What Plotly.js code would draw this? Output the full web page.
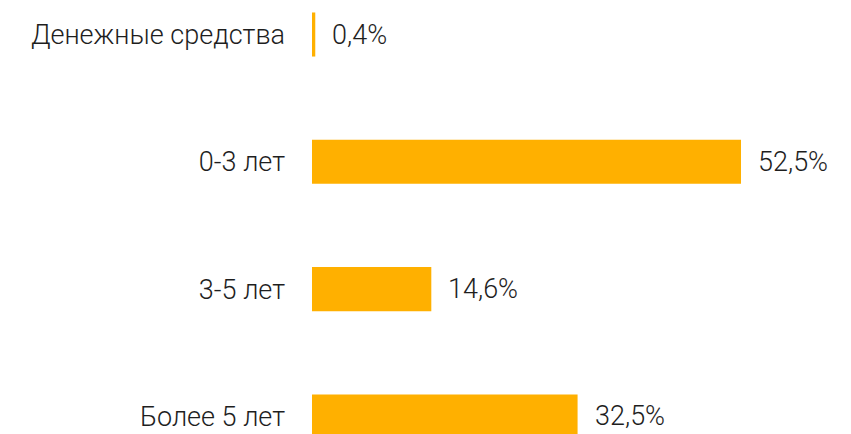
<!DOCTYPE html>
<html>
<head>
<meta charset="utf-8">
<script src="https://cdn.plot.ly/plotly-3.0.1.min.js"></script>
<style>html,body{margin:0;padding:0;background:#fff;}#chart{width:851px;height:434px;}</style>
</head>
<body>
<div id="chart"></div>
<script>
var categories = ["Денежные средства", "0-3 лет", "3-5 лет", "Более 5 лет"];
var values = [0.4, 52.5, 14.6, 32.5];
var valueLabels = ["0,4%", "52,5%", "14,6%", "32,5%"];

var barColor = "#FFB000";
var textColor = "#1e1e1e";
var fontFamily = "Roboto, 'Noto Sans', sans-serif";

var trace = {
  type: "bar",
  orientation: "h",
  x: values,
  y: categories,
  width: 0.346,
  marker: {color: barColor},
  hoverinfo: "none"
};

var annotations = values.map(function (v, i) {
  return {
    x: v, y: categories[i], xref: "x", yref: "y",
    text: valueLabels[i], showarrow: false,
    xanchor: "left", yanchor: "middle", xshift: 15,
    font: {family: fontFamily, size: 27, weight: 300, color: textColor}
  };
});

var layout = {
  width: 851, height: 434,
  margin: {l: 312, r: 0, t: 0, b: 0, pad: 0},
  paper_bgcolor: "#ffffff", plot_bgcolor: "#ffffff",
  showlegend: false,
  xaxis: {range: [0, 65.96], visible: false, fixedrange: true},
  yaxis: {
    type: "category",
    categoryorder: "array", categoryarray: categories,
    range: [3.138, -0.271],
    showgrid: false, zeroline: false, showline: false,
    ticks: "", ticklabelstandoff: 26,
    tickfont: {family: fontFamily, size: 27, weight: 300, color: textColor},
    fixedrange: true
  },
  annotations: annotations
};

Plotly.newPlot("chart", [trace], layout, {displayModeBar: false, staticPlot: true});
</script>
</body>
</html>
